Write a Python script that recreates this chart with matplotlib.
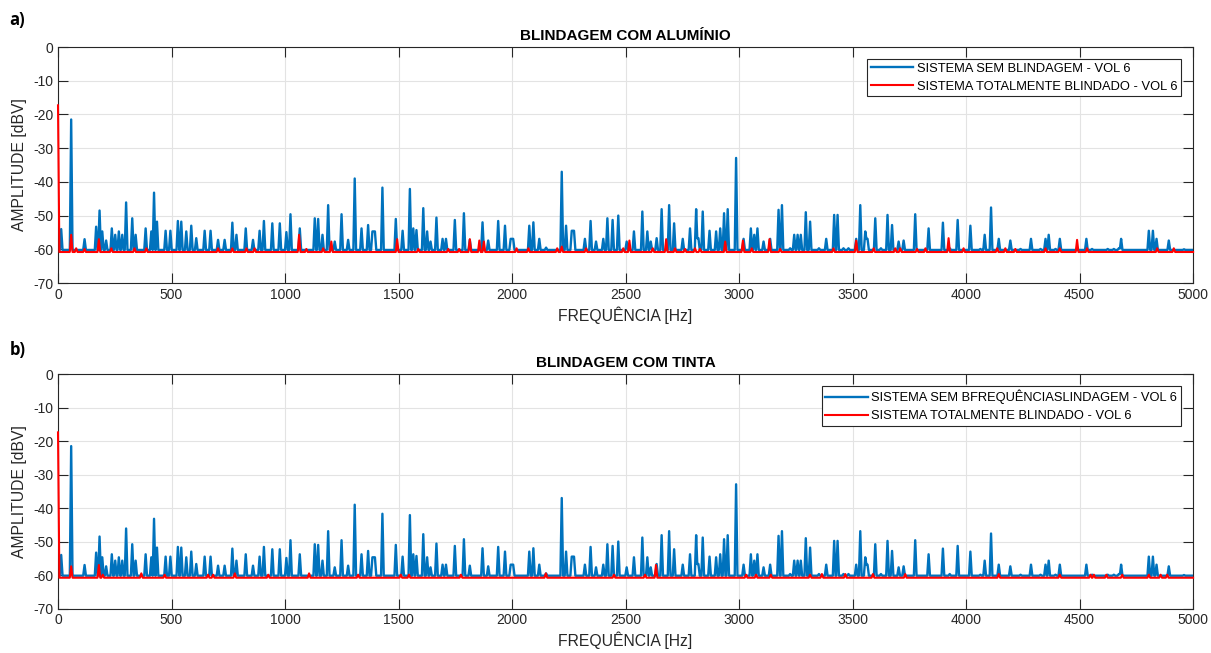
import matplotlib.pyplot as plt
import numpy as np

plt.rcParams['font.family'] = ['Liberation Sans', 'DejaVu Sans']
plt.rcParams['axes.unicode_minus'] = False

# espectro sem blindagem (picos: frequencia [Hz], amplitude [dBV])
blue_f = [14, 58, 117, 168, 183, 195, 212, 237, 252, 268, 283, 300, 327, 342,
          386, 411, 423, 436, 474, 495, 528, 543, 565, 587, 609, 646, 672, 705,
          734, 768, 786, 827, 859, 888, 907, 944, 977, 1006, 1024, 1065, 1131,
          1146, 1165, 1190, 1219, 1249, 1278,
          1307, 1337, 1366, 1385, 1396, 1429, 1488, 1518, 1550, 1565, 1579,
          1609, 1626, 1641, 1667, 1694, 1709, 1748, 1788, 1814, 1870, 1895,
          1939, 1969, 1994, 2005, 2076, 2094, 2120, 2150, 2219, 2238, 2263,
          2273, 2321, 2346, 2370, 2402, 2420, 2443, 2468, 2505,
          2537, 2574, 2596, 2611, 2637, 2659, 2692, 2714, 2752, 2784, 2811,
          2821, 2840, 2870, 2899, 2917, 2934, 2950, 2987, 3020, 3052, 3067,
          3081, 3108, 3137, 3174, 3189, 3225, 3243, 3258, 3272, 3294, 3313,
          3352, 3384, 3419, 3434, 3460, 3482, 3516, 3534, 3556, 3566, 3600,
          3625, 3654, 3674, 3703, 3725, 3776, 3835,
          3898, 3928, 3963, 4019, 4063, 4082, 4110, 4144, 4195, 4240, 4286,
          4328, 4350, 4364, 4394, 4413, 4530, 4555, 4624, 4651, 4673, 4683,
          4805, 4823, 4839, 4893, 4960]
blue_a = [-54, -21.5, -57, -53.3, -48.5, -54.7, -57.4, -53.8, -55.7, -54.7, -55.7, -46.1, -50.8, -55.7,
          -53.8, -54.7, -43.2, -51.8, -54.5, -54.5, -51.6, -51.8, -54.7, -53, -56.7, -54.5, -54.5, -57.2,
          -57.2, -52.1, -55.7, -53.8, -57.2, -54.5, -51.6, -52.3, -52.3, -54.9, -49.6, -53.8, -50.8,
          -51, -55.7, -46.9, -57.7, -49.6, -57.2,
          -39, -53.8, -52.8, -54.7, -54.7, -41.7, -51, -54.5, -42.1, -53.8, -54.3,
          -47.8, -54.7, -57.7, -50.6, -56.9, -56.9, -51.3, -49.3, -57.2, -52, -57.4,
          -51.6, -53, -56.9, -56.9, -53, -52, -56.9, -59.5, -37, -53, -54.5,
          -54.5, -56.9, -51.6, -57.7, -56.9, -50.8, -51.3, -50, -57.7,
          -54.7, -48.8, -54.7, -57.7, -56.7, -48.1, -46.9, -52.3, -56.9, -53.8, -48.1,
          -56.7, -48.8, -54.5, -54.7, -53.8, -49.3, -48.1, -32.9, -56.9, -53.8, -55.7,
          -53.8, -57.7, -56.9, -48.3, -46.9, -59.7, -55.7, -55.7, -55.7, -49, -51.8,
          -59.7, -56.9, -49.8, -49.8, -59.7, -59.7, -56.9, -46.9, -54.7, -56.9, -50.8,
          -59.7, -49.8, -52.8, -57.7, -57.4, -49.6, -53.8,
          -52.1, -59.7, -51.3, -53, -59.9, -55.7, -47.6, -56.9, -57.4, -59.9, -56.9,
          -59.9, -56.9, -55.7, -59.9, -56.9, -56.9, -59.9, -59.9, -59.9, -59.7, -56.9,
          -54.5, -54.5, -56.9, -57.4, -60]
blue_floor = -60.2

# sistema totalmente blindado - aluminio
red1_f = [0, 58, 80, 117, 180, 235, 337, 389, 705, 768, 830, 866, 1062, 1094,
          1168, 1204, 1494, 1587, 1719, 1767, 1814, 1856, 1876, 2020, 2072,
          2199, 2219, 2326, 2490, 2517, 2620, 2679, 2718, 2762, 2806, 2828,
          2939, 3017, 3056, 3134, 3181, 3416, 3516, 3593, 3688, 3710, 3784,
          3821, 3923, 3989, 4137, 4173, 4217, 4350, 4413, 4489, 4533, 4842, 4915]
red1_a = [-17.3, -55.7, -59.7, -59.9, -57, -59.7, -59.7, -59.7, -59.7, -59.7, -59.7, -59.7, -55.7, -59.9,
          -59.7, -57.7, -57, -59.9, -59.9, -59.9, -57, -57.4, -57.7, -59.7, -59.7,
          -59.7, -59.2, -59.7, -59.7, -57.4, -59.7, -57, -59.7, -59.9, -59.7, -59.9,
          -57.7, -57.4, -59.7, -57, -59.9, -59.7, -57.4, -59.7, -59.7, -59.7, -59.9,
          -59.7, -56.7, -59.7, -59.7, -59.7, -59.9, -59.7, -59.7, -57.2, -59.7, -59.7, -59.7]

# sistema totalmente blindado - tinta
red2_f = [0, 58, 180, 197, 367, 470, 661, 683, 779, 926, 1106, 1322, 1510,
          1546, 1775, 2149, 2449, 2586, 2634, 3031, 3075, 3140, 3313, 3365,
          3468, 3590, 3732, 4144, 4413, 4548, 4563, 4618, 4688, 4805, 4857, 4886]
red2_a = [-17.4, -57.4, -57, -59.9, -59.5, -59.9, -59.9, -59.9, -59.5, -59.9, -59.5, -59.9, -59.9,
          -59.9, -59.9, -59.5, -59.9, -59.9, -57, -59.9, -59.9, -59.9, -59.9, -59.7,
          -59.7, -59.7, -59.7, -59.7, -59.9, -59.9, -59.9, -59.9, -59.9, -59.9, -59.9, -59.9]
red_floor = -60.8

f_max = 5000


def spectrum(freqs, amps, floor):
    # cada pico vira um triangulo sobre o piso de ruido; entre picos
    # proximos a linha desce ate o vale onde as rampas se cruzam
    halfs = [min(6 + 0.8 * max(floor - a, 0), 16) for a in amps]
    slopes = [max(floor - a, 0.01) / h for a, h in zip(amps, halfs)]
    xs, ys = [0.0], [floor]
    for i, (f, a) in enumerate(zip(freqs, amps)):
        if i == 0:
            left = f - halfs[i]
            if left > 0:
                xs.append(left); ys.append(floor)
            else:
                xs[-1] = f
                ys[-1] = a
        if xs[-1] != f or ys[-1] != a:
            xs.append(f); ys.append(a)
        if i + 1 < len(freqs):
            f2, a2 = freqs[i + 1], amps[i + 1]
            if f + halfs[i] <= f2 - halfs[i + 1]:
                xs += [f + halfs[i], f2 - halfs[i + 1]]
                ys += [floor, floor]
            else:
                s1, s2 = slopes[i], slopes[i + 1]
                xc = (a + s1 * f - a2 + s2 * f2) / (s1 + s2)
                if not (f < xc < f2):
                    xc = (f + f2) / 2
                yc = min(a - s1 * (xc - f), a2 - s2 * (f2 - xc))
                xs.append(xc); ys.append(max(yc, floor))
        else:
            xs.append(f + halfs[i]); ys.append(floor)
    xs.append(f_max); ys.append(floor)
    return np.array(xs), np.array(ys)


bx, by = spectrum(blue_f, blue_a, blue_floor)
r1x, r1y = spectrum(red1_f, red1_a, red_floor)
r2x, r2y = spectrum(red2_f, red2_a, red_floor)

fig = plt.figure(figsize=(12.11, 6.53), dpi=100)
ax1 = fig.add_axes([0.0479, 0.5666, 0.9373, 0.3614])
ax2 = fig.add_axes([0.0479, 0.0681, 0.9373, 0.3590])

panels = [(ax1, r1x, r1y, 'BLINDAGEM COM ALUMÍNIO',
           'SISTEMA SEM BLINDAGEM - VOL 6'),
          (ax2, r2x, r2y, 'BLINDAGEM COM TINTA',
           'SISTEMA SEM BFREQUÊNCIASLINDAGEM - VOL 6')]

for ax, rx, ry, title, blue_label in panels:
    ax.plot(bx, by, color='#0072BD', lw=1.7, label=blue_label)
    ax.plot(rx, ry, color='#FF0000', lw=1.5, zorder=3, clip_on=False,
            label='SISTEMA TOTALMENTE BLINDADO - VOL 6')
    ax.set_xlim(0, 5000)
    ax.set_ylim(-70, 0)
    ax.set_xticks(np.arange(0, 5001, 500))
    ax.set_yticks(np.arange(-70, 1, 10))
    ax.grid(True, color='#e3e3e3', lw=0.8)
    ax.set_axisbelow(True)
    ax.tick_params(direction='in', length=7, width=0.8, top=True, right=True,
                   labelsize=10, colors='#262626')
    for sp in ax.spines.values():
        sp.set_color('#262626')
        sp.set_linewidth(0.8)
    ax.set_title(title, fontsize=11, fontweight='bold', pad=5)
    ax.set_xlabel('FREQUÊNCIA [Hz]', fontsize=11.3, color='#262626', labelpad=3)
    ax.set_ylabel('AMPLITUDE [dBV]', fontsize=11.3, color='#262626', labelpad=4)
    leg = ax.legend(loc='upper right', bbox_to_anchor=(0.9894, 0.95),
                    fontsize=9.3, handlelength=3.3, handletextpad=0.25,
                    labelspacing=0.45, borderpad=0.3, borderaxespad=0,
                    fancybox=False, framealpha=1, edgecolor='#262626')
    leg.get_frame().set_linewidth(0.8)

fig.text(0.008, 0.969, 'a)', fontsize=12, fontweight='bold', va='center',
         family=['Open Sans', 'DejaVu Sans'])
fig.text(0.008, 0.464, 'b)', fontsize=12, fontweight='bold', va='center',
         family=['Open Sans', 'DejaVu Sans'])

fig.savefig('out.png', dpi=100)
